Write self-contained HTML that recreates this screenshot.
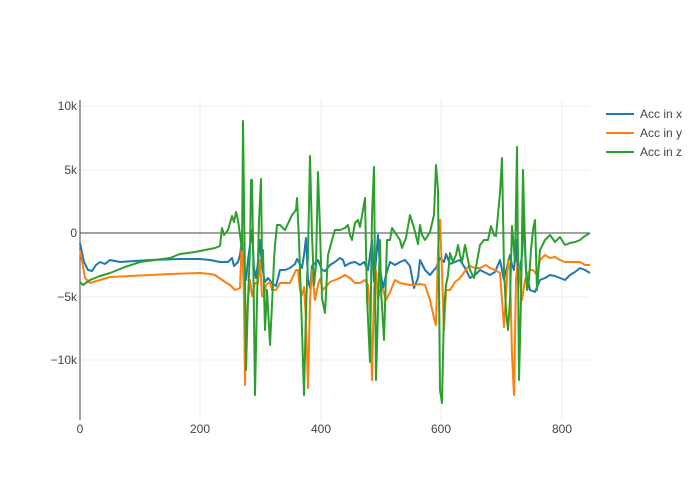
<!DOCTYPE html>
<html><head><meta charset="utf-8"><style>body{margin:0;background:#fff}svg{display:block}text{font-family:"Liberation Sans",sans-serif;font-size:12px;fill:#444}</style></head><body>
<svg width="700" height="500" xmlns="http://www.w3.org/2000/svg">
<g stroke="#eee" stroke-width="1">
<line x1="80" y1="106" x2="590" y2="106"/><line x1="80" y1="170" x2="590" y2="170"/><line x1="80" y1="297" x2="590" y2="297"/><line x1="80" y1="360" x2="590" y2="360"/>
<line x1="200" y1="100" x2="200" y2="420"/><line x1="321" y1="100" x2="321" y2="420"/><line x1="441" y1="100" x2="441" y2="420"/><line x1="562" y1="100" x2="562" y2="420"/>
</g>
<line x1="80" y1="233" x2="590" y2="233" stroke="#444" stroke-width="1"/>
<line x1="80" y1="100" x2="80" y2="420" stroke="#444" stroke-width="1"/>
<g fill="none" stroke-width="2" stroke-linejoin="round">
<polyline stroke="#1f77b4" points="80,243 84,262 88,270 92,271 96,265 100,262 105,264 110,260 120,262 150,260 180,259 200,259 210,260 220,262 228,262 232,258 234,266 238,262 240,255 242,240 244,270 246,280 248,260 250,245 252,230 254,268 256,278 258,262 260,240 262,266 265,282 268,278 272,283 276,286 280,270 285,270 290,268 295,264 297,259 300,264 302,268 304,255 306,238 308,280 310,288 312,266 314,264 318,260 322,270 325,271 330,265 335,262 340,258 343,260 345,266 350,263 355,262 360,265 364,262 368,270 370,255 372,240 374,282 376,260 378,235 380,268 383,288 386,275 390,262 395,265 400,262 405,260 410,266 414,288 418,278 420,260 425,270 430,275 434,270 436,268 440,258 442,260 444,262 446,254 450,264 455,262 460,260 465,268 470,278 475,275 480,270 490,275 495,272 500,260 502,270 504,280 506,271 510,255 512,265 514,270 516,240 518,280 522,256 524,216 526,270 530,290 535,292 540,280 545,278 550,275 555,276 560,278 565,280 570,275 575,272 580,268 585,270 590,273"/>
<polyline stroke="#ff7f0e" points="80,250 85,278 90,283 100,280 110,277 130,276 150,275 170,274 200,273 210,274 215,275 225,282 230,285 235,290 240,288 242,235 244,300 245,385 246,330 248,300 250,280 252,296 255,283 258,283 260,260 262,296 264,297 266,285 270,282 272,290 276,290 280,283 290,283 296,270 298,270 300,290 302,295 304,287 306,320 308,388 310,300 312,270 315,300 318,285 320,279 323,290 330,282 340,278 345,275 350,278 355,283 360,283 365,280 368,285 370,310 372,380 374,290 376,270 378,300 380,290 383,290 386,300 390,292 395,280 400,283 410,285 415,285 420,284 425,285 430,300 434,318 436,325 438,250 440,220 442,270 444,330 446,290 450,290 455,282 460,278 468,267 470,266 475,268 480,268 486,265 490,268 495,270 500,273 502,300 504,327 506,295 508,260 510,270 512,355 514,395 516,280 518,258 520,280 522,300 525,280 530,270 533,270 537,275 540,260 545,255 550,258 555,257 560,260 565,262 570,262 575,262 580,262 585,265 590,265"/>
<polyline stroke="#2ca02c" points="80,282 83,285 90,280 100,276 110,273 125,267 140,262 155,260 170,258 180,254 195,252 205,250 215,248 220,246 222,228 224,235 228,230 232,216 234,222 236,212 238,220 240,235 242,250 243,121 245,280 246,370 248,300 250,250 251,180 252,180 253,240 255,395 257,300 259,220 261,179 262,260 263,250 265,330 267,290 270,345 272,305 274,260 275,245 277,225 280,225 285,230 292,215 296,210 297,198 299,240 302,330 304,395 306,310 308,253 310,156 312,235 314,285 316,265 318,172 320,230 322,298 325,313 328,255 332,240 335,230 340,230 345,228 348,225 350,235 352,240 355,223 358,220 360,227 363,210 365,198 367,298 370,362 372,215 374,167 376,380 378,310 380,240 381,290 384,340 387,240 390,240 392,228 400,240 402,248 406,238 410,215 414,228 418,244 420,225 422,235 425,240 430,232 434,215 436,165 438,190 440,390 442,403 444,310 446,285 448,275 450,253 453,262 456,255 458,245 460,255 462,262 465,245 470,270 474,278 480,245 484,240 488,240 491,226 494,235 496,236 500,193 502,158 504,270 506,310 508,330 510,300 512,226 515,262 517,147 519,380 521,300 523,170 525,250 527,290 529,280 531,250 533,230 535,220 537,290 540,250 545,240 550,235 555,242 560,237 565,245 570,243 575,242 580,240 585,236 590,233"/>
</g>
<g text-anchor="end">
<text x="77" y="110">10k</text><text x="77" y="174">5k</text><text x="77" y="237">0</text><text x="77" y="301">−5k</text><text x="77" y="364">−10k</text>
</g>
<g text-anchor="middle">
<text x="80" y="433">0</text><text x="200" y="433">200</text><text x="321" y="433">400</text><text x="441" y="433">600</text><text x="562" y="433">800</text>
</g>
<g stroke-width="2">
<line x1="606" y1="114" x2="634" y2="114" stroke="#1f77b4"/>
<line x1="606" y1="133" x2="634" y2="133" stroke="#ff7f0e"/>
<line x1="606" y1="152" x2="634" y2="152" stroke="#2ca02c"/>
</g>
<text x="640" y="118">Acc in x</text><text x="640" y="137">Acc in y</text><text x="640" y="156">Acc in z</text>
</svg>
</body></html>
